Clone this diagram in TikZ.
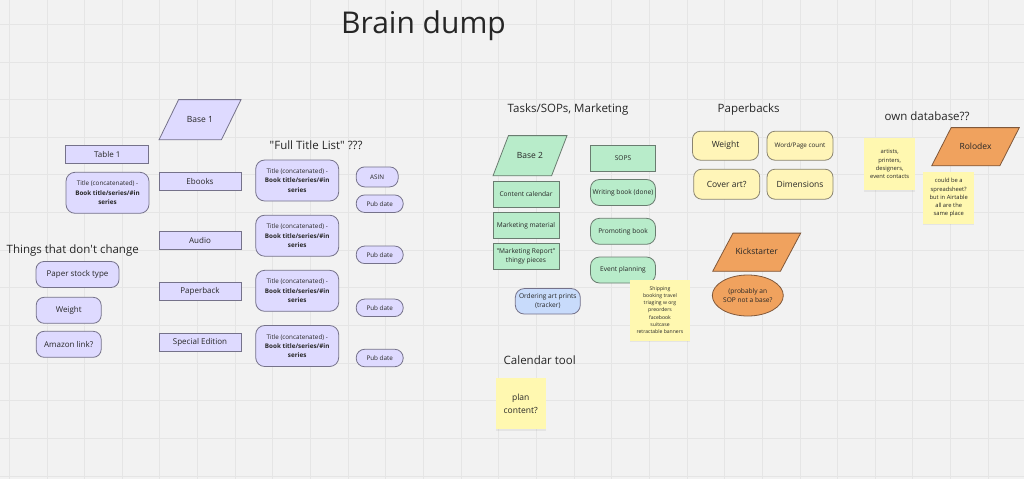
\documentclass[tikz,border=0pt]{standalone}
\usepackage{fontspec}
\setmainfont{Open Sans}
\usetikzlibrary{shapes.geometric,shadows}
\definecolor{bg}{HTML}{F2F2F2}
\definecolor{gridc}{HTML}{E5E5E5}
\definecolor{lav}{HTML}{DEDAFF}
\definecolor{lavline}{HTML}{75728A}
\definecolor{mint}{HTML}{B8ECCA}
\definecolor{mintline}{HTML}{6A7C70}
\definecolor{cream}{HTML}{FFF5B8}
\definecolor{creamline}{HTML}{8A8470}
\definecolor{tang}{HTML}{F0A25E}
\definecolor{tangline}{HTML}{80583A}
\definecolor{sky}{HTML}{C8DBFB}
\definecolor{note}{HTML}{FFF8B0}
\definecolor{ink}{HTML}{262626}
\newcommand\fulltitle{Title (concatenated) -\\\textbf{Book title/series/\#in}\\\textbf{series}}
\newcommand\fs[2]{\fontsize{#1}{#2}\selectfont}

\begin{document}
\begin{tikzpicture}[x=1pt,y=-1pt,
  every node/.style={text=ink,inner sep=1pt,align=center},
  hdr/.style={anchor=base west,font=\fs{11.5}{14}},
  lavbox/.style={draw=lavline,fill=lav,line width=.8,font=\fs{8}{10},minimum height=18},
  lavround/.style={lavbox,rounded corners=8,minimum height=26},
  pill/.style={lavbox,rounded corners=8.5,font=\fs{6.3}{8}},
  base/.style 2 args={trapezium,trapezium stretches body=true,trapezium left angle=#1,trapezium right angle=180-#1,
    text height=6,text depth=1,inner ysep=#2,line width=.8,font=\fs{8.5}{10}},
  mintbox/.style={draw=mintline,fill=mint,line width=.8,font=\fs{6.6}{9.3},minimum width=66,minimum height=26},
  creambox/.style={draw=creamline,fill=cream,line width=.8,rounded corners=8,minimum width=66,minimum height=29},
  sticky/.style={fill=note,inner sep=0,drop shadow={shadow xshift=0pt,shadow yshift=-1.5pt,opacity=.12}}]
\fill[bg] (0,0) rectangle (1024,479);
\useasboundingbox (0,0) rectangle (1024,479);
\foreach \k in {0,...,26}{\draw[gridc,line width=.9] ({9.3+37.65*\k},0)--({9.3+37.65*\k},479);}
\foreach \k in {0,...,12}{\draw[gridc,line width=.9] (0,{24.3+37.65*\k})--(1024,{24.3+37.65*\k});}
\node[anchor=base west,font=\fs{30}{34}] (brain) at (340,33.3){Brain dump};
% base 1
\node[base={64}{16.6},draw=lavline,fill=lav,minimum width=82] (base1) at (200,119.7){Base 1};
\node[lavbox,minimum width=83] (table1) at (107.3,154.3){Table 1};
\node[lavbox,rounded corners=9,minimum width=83,minimum height=41,font=\fs{6.3}{9.3}] (concat) at (107.5,192.8){\fulltitle};
\foreach \f/\a/\b/\c [count=\i] in {Ebooks/181/180.5/203.7,Audio/240/235.7/254.8,Paperback/291/290.8/307.8,Special Edition/342/346/358}{
  \node[lavbox,minimum width=82] (fmt\i) at (200,\a){\f};
  \node[lavbox,rounded corners=9,minimum width=83,minimum height=41,font=\fs{6.3}{9.3}] (ttl\i) at (297.2,\b){\fulltitle};
  \node[pill,minimum width=47,minimum height=17.5] (pub\i) at (379.7,\c){Pub date};}
\node[pill,minimum width=42,minimum height=20] (asin) at (377.2,176.9){ASIN};
\node[hdr] (fulllist) at (268.5,149){\textquotedbl Full Title List\textquotedbl{} ???};
\node[hdr] (fixed) at (5.5,253){Things that don\textquotesingle t change};
\node[lavround,minimum width=83] (paper) at (77.5,274.5){Paper stock type};
\node[lavround,minimum width=65] (weight1) at (68.7,310.3){Weight};
\node[lavround,minimum width=65] (amazon) at (68.7,344.3){Amazon link?};
% base 2
\node[hdr] (tasks) at (506.5,112){Tasks/SOPs, Marketing};
\node[base={69}{16.6},draw=mintline,fill=mint,minimum width=74] (base2) at (530,155.7){Base 2};
\node[mintbox,minimum width=65] (sops) at (623,158){SOPS};
\node[mintbox] (content) at (526,194.2){Content calendar};
\node[mintbox] (material) at (526,225.3){Marketing material};
\node[mintbox] (report) at (526,256.3){\textquotedbl Marketing Report\textquotedbl\\thingy pieces};
\node[mintbox,rounded corners=9,minimum width=65] (writing) at (623,192.5){Writing book (done)};
\node[mintbox,rounded corners=9,minimum width=65] (promo) at (623,231.3){Promoting book};
\node[mintbox,rounded corners=9,minimum width=65] (event) at (623,270){Event planning};
\node[draw=lavline,fill=sky,line width=.8,rounded corners=9,minimum width=65,minimum height=25.5,font=\fs{6.6}{9.3}] (prints) at (547.8,301.3){Ordering art prints\\(tracker)};
\node[sticky,minimum width=60,minimum height=61,font=\fs{5.1}{7.2}] (shipping) at (660,310){Shipping\\booking travel\\triaging w org\\preorders\\facebook\\suitcase\\retractable banners};
\node[hdr] (calendar) at (502.5,364.7){Calendar tool};
\node[sticky,minimum width=50,minimum height=51,font=\fs{8.5}{13}] (plan) at (520.7,403.8){plan\\content?};
% paperbacks
\node[hdr] (paperbacks) at (716.5,112){Paperbacks};
\node[creambox,font=\fs{8.5}{10}] (weight2) at (725.5,145.7){Weight};
\node[creambox,font=\fs{6.3}{8}] (pages) at (800,145.7){Word/Page count};
\node[creambox,minimum height=30,font=\fs{8.5}{10}] (cover) at (726.7,184.2){Cover art?};
\node[creambox,minimum height=30,font=\fs{8.5}{10}] (dims) at (800,184.2){Dimensions};
\node[base={62}{15.6},draw=tangline,fill=tang,minimum width=88] (kick) at (756.7,252.2){Kickstarter};
\node[ellipse,draw=tangline,fill=tang,line width=.8,minimum width=71,minimum height=41,inner sep=0,font=\fs{6.6}{9.3}] (probably) at (747.8,295.5){(probably an\\SOP not a base?};
% database
\node[hdr] (owndb) at (883.5,120.7){own database??};
\node[sticky,minimum width=51,minimum height=52,font=\fs{5.8}{8.3}] (contacts) at (889.7,164.2){artists,\\printers,\\designers,\\event contacts};
\node[base={63}{15.6},draw=tangline,fill=tang,minimum width=87.6] (rolodex) at (975.5,146.7){Rolodex};
\node[sticky,minimum width=51,minimum height=52,font=\fs{5.8}{8.3}] (airtable) at (948.7,197.8){could be a\\spreadsheet?\\but in Airtable\\all are the\\same place};
\end{tikzpicture}
\end{document}
